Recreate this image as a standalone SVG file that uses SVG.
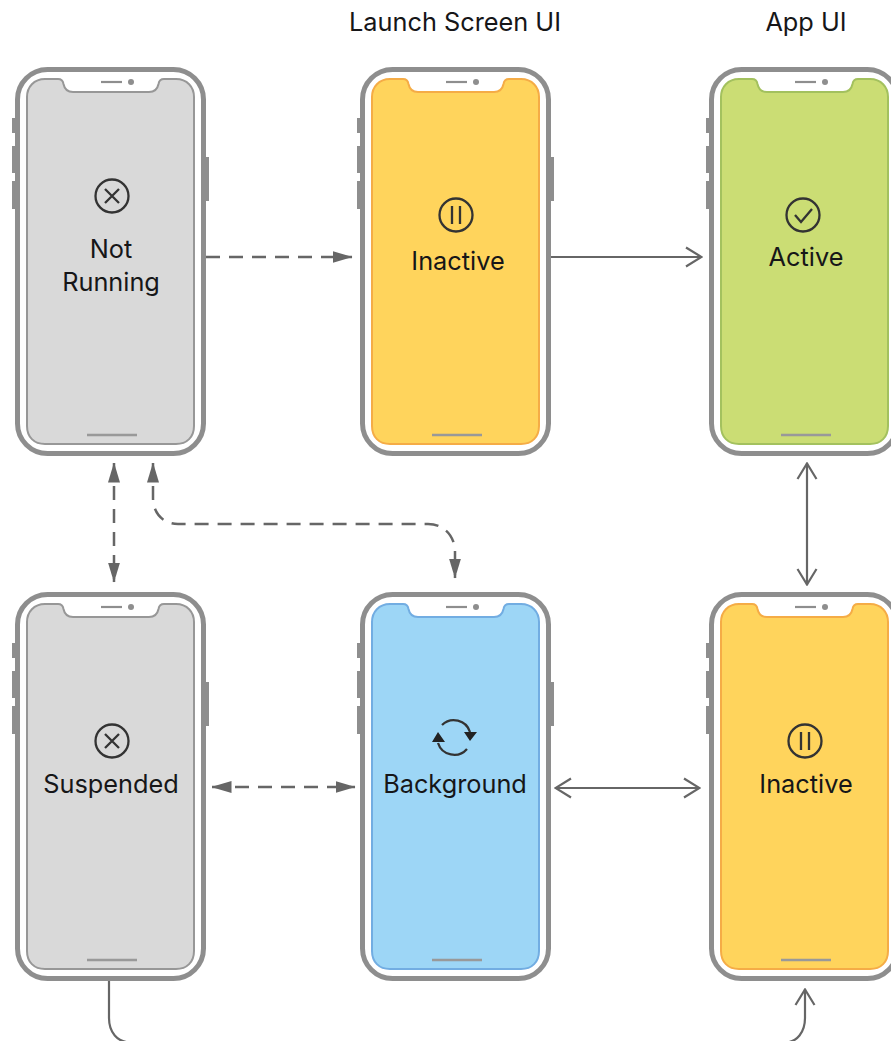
<svg xmlns="http://www.w3.org/2000/svg" xmlns:xlink="http://www.w3.org/1999/xlink" width="891" height="1041" viewBox="0 0 891 1041">
<style>
text{font-family:"Inter","Liberation Sans",sans-serif;font-size:25.3px;fill:#161618;text-anchor:middle}
.body{fill:#fff;stroke:#8e8e8e;stroke-width:5}
.btn{fill:#8e8e8e}
.scr{stroke-width:2}
.gray{fill:#d9d9d9;stroke:#979797}
.yel{fill:#ffd45c;stroke:#f5ac46}
.grn{fill:#cbdd74;stroke:#a3c15e}
.blu{fill:#9dd6f6;stroke:#72ade2}
.det{fill:none;stroke:#8e8e8e;stroke-width:2.2}
.home{fill:none;stroke:#999;stroke-width:2.6}
.ic{fill:none;stroke:#333;stroke-width:2.3}
.c{fill:none;stroke:#666;stroke-width:2.2}
.d{stroke-dasharray:14 9;stroke-width:2.5}
</style>
<defs>
<marker id="fa" viewBox="0 0 20 14" refX="19.500" refY="7" markerWidth="20" markerHeight="14" markerUnits="userSpaceOnUse" orient="auto-start-reverse"><path d="M0 1L20 7L0 13Z" fill="#666"/></marker>
<marker id="oa" viewBox="0 0 18 24" refX="17" refY="12" markerWidth="18" markerHeight="24" markerUnits="userSpaceOnUse" orient="auto-start-reverse"><path d="M1 2.500L16.500 12L1 21.500" fill="none" stroke="#666" stroke-width="2.200"/></marker>
<g id="frame">
<rect class="btn" x="12" y="118" width="4" height="15"/>
<rect class="btn" x="12" y="146" width="4" height="27"/>
<rect class="btn" x="12" y="181" width="4" height="28"/>
<rect class="btn" x="204" y="157" width="5" height="44"/>
<rect class="body" x="17.500" y="69.500" width="186" height="384" rx="30"/>
</g>
<path id="s" d="M45 79H58C62 79 63 81 63.500 84C64.500 89 67 92 73 92H149C155 92 157.500 89 158.500 84C159 81 160 79 164 79H176C187 79 194 87 194 97V426C194 437 187 444 176 444H45C34 444 27 437 27 426V97C27 87 34 79 45 79Z"/>
<g id="det">
<path class="det" d="M101 82H122"/>
<circle cx="131" cy="82" r="3" fill="#8e8e8e"/>
<path class="home" d="M87 435H137"/>
</g>
</defs>
<text x="455" y="31">Launch Screen UI</text>
<text x="806" y="31">App UI</text>
<g id="connectors">
<path class="c d" d="M206 257H352" marker-end="url(#fa)"/>
<path class="c" d="M551 257H702" marker-end="url(#oa)"/>
<path class="c d" d="M114 463V582" marker-start="url(#fa)" marker-end="url(#fa)"/>
<path class="c d" d="M153 463V498C153 513 163 524 178 524H428C444 524 455 536 455 552V578" marker-start="url(#fa)" marker-end="url(#fa)"/>
<path class="c d" d="M212 787H355" marker-start="url(#fa)" marker-end="url(#fa)"/>
<path class="c" d="M555 788H700" marker-start="url(#oa)" marker-end="url(#oa)"/>
<path class="c" d="M807 463V585" marker-start="url(#oa)" marker-end="url(#oa)"/>
<path class="c" d="M109 981V1018C109 1032 117 1042.500 131 1042.500H785C797 1042.500 805 1032 805 1018V989" marker-end="url(#oa)"/>
</g>
<g id="not-running">
<use xlink:href="#frame"/><use xlink:href="#s" class="scr gray"/><use xlink:href="#det"/>
<circle class="ic" cx="112" cy="196" r="16.500"/><path class="ic" d="M105 189L119 203M119 189L105 203"/>
<text x="111" y="258">Not</text><text x="111" y="291">Running</text>
</g>
<g id="inactive-launch" transform="translate(345 0)">
<use xlink:href="#frame"/><use xlink:href="#s" class="scr yel"/><use xlink:href="#det"/>
<circle class="ic" cx="111" cy="215" r="16.500"/><path class="ic" d="M107 206V224M115 206V224"/>
<text x="113" y="270">Inactive</text>
</g>
<g id="active" transform="translate(694 0)">
<use xlink:href="#frame"/><use xlink:href="#s" class="scr grn"/><use xlink:href="#det"/>
<circle class="ic" cx="109" cy="215" r="16.500"/><path class="ic" d="M101 215L107 222L118 209"/>
<text x="112" y="266">Active</text>
</g>
<g id="suspended" transform="translate(0 525)">
<use xlink:href="#frame"/><use xlink:href="#s" class="scr gray"/><use xlink:href="#det"/>
<circle class="ic" cx="112" cy="216" r="16.500"/><path class="ic" d="M105 209L119 223M119 209L105 223"/>
<text x="111" y="268">Suspended</text>
</g>
<g id="background" transform="translate(345 525)">
<use xlink:href="#frame"/><use xlink:href="#s" class="scr blu"/><use xlink:href="#det"/>
<path class="ic" d="M97 200A17 17 0 0 1 125 207M93 218A17 17 0 0 0 122 224"/>
<path d="M119 207H132L125 216ZM87 217H100L93 207Z" fill="#222"/>
<text x="110" y="268">Background</text>
</g>
<g id="inactive-app" transform="translate(694 525)">
<use xlink:href="#frame"/><use xlink:href="#s" class="scr yel"/><use xlink:href="#det"/>
<circle class="ic" cx="111" cy="216" r="16.500"/><path class="ic" d="M107 207V225M115 207V225"/>
<text x="112" y="268">Inactive</text>
</g>
</svg>
